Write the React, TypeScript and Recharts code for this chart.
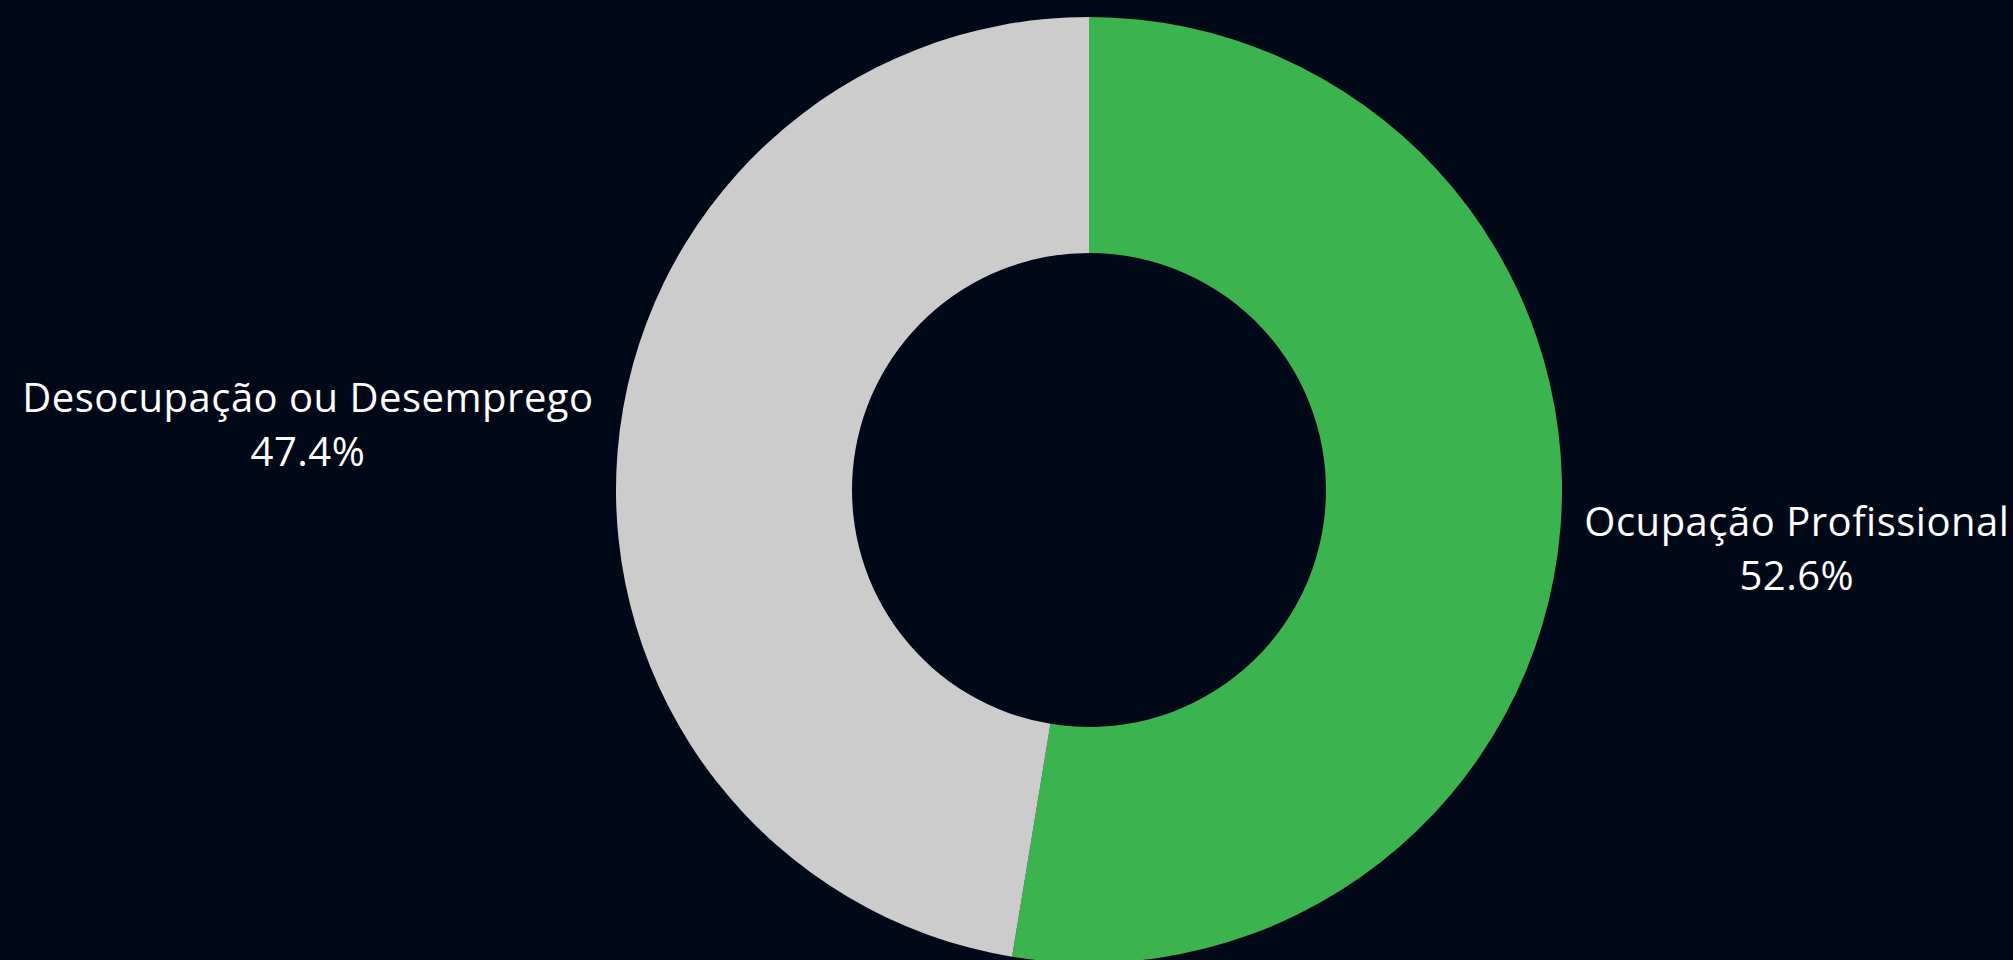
import { PieChart, Pie, Cell } from "recharts";

const categories = ["Ocupação Profissional", "Desocupação ou Desemprego"];
const shares = [52.6, 47.4];
const sliceColors = ["#3bb44f", "#cccccc"];

const chartData = categories.map((name, i) => ({ name, value: shares[i] }));

const FONT_SIZE = 40;
const LETTER_SPACING = 0.5;
const FONT_FAMILY = "'Open Sans', 'Noto Sans', sans-serif";
const RADIAN = Math.PI / 180;

function textWidth(text: string) {
  const ctx = document.createElement("canvas").getContext("2d");
  if (!ctx) return text.length * FONT_SIZE * 0.55;
  ctx.font = `${FONT_SIZE}px 'Open Sans'`;
  return ctx.measureText(text).width + text.length * LETTER_SPACING;
}

function renderLabel(props: any) {
  const { cx, cy, midAngle, outerRadius, name, percent } = props;
  const r = outerRadius + 24;
  const ex = cx + r * Math.cos(-midAngle * RADIAN);
  const ey = cy + r * Math.sin(-midAngle * RADIAN);
  const onRight = ex >= cx;
  const below = ey >= cy;
  const width = textWidth(name);
  const centerX = onRight ? ex + width / 2 : ex - width / 2;
  const firstBaseline = below ? ey + 5 : ey - 37;
  return (
    <text
      x={centerX}
      y={firstBaseline}
      fill="#ffffff"
      textAnchor="middle"
      style={{ fontFamily: FONT_FAMILY, fontSize: FONT_SIZE, letterSpacing: LETTER_SPACING }}
    >
      <tspan x={centerX} y={firstBaseline}>
        {name}
      </tspan>
      <tspan x={centerX} y={firstBaseline + 54}>
        {`${(percent * 100).toFixed(1)}%`}
      </tspan>
    </text>
  );
}

export default function App() {
  return (
    <div
      style={{
        position: "fixed",
        left: 0,
        top: 0,
        width: 2013,
        height: 960,
        background: "#010817",
      }}
    >
      <PieChart width={2013} height={960} margin={{ top: 0, right: 0, bottom: 0, left: 0 }}>
        <Pie
          data={chartData}
          dataKey="value"
          nameKey="name"
          cx={1089}
          cy={490}
          innerRadius={237}
          outerRadius={473}
          startAngle={90}
          endAngle={-270}
          stroke="none"
          label={renderLabel}
          labelLine={false}
          isAnimationActive={false}
        >
          {chartData.map((entry, index) => (
            <Cell key={`cell-${index}`} fill={sliceColors[index]} />
          ))}
        </Pie>
      </PieChart>
    </div>
  );
}
